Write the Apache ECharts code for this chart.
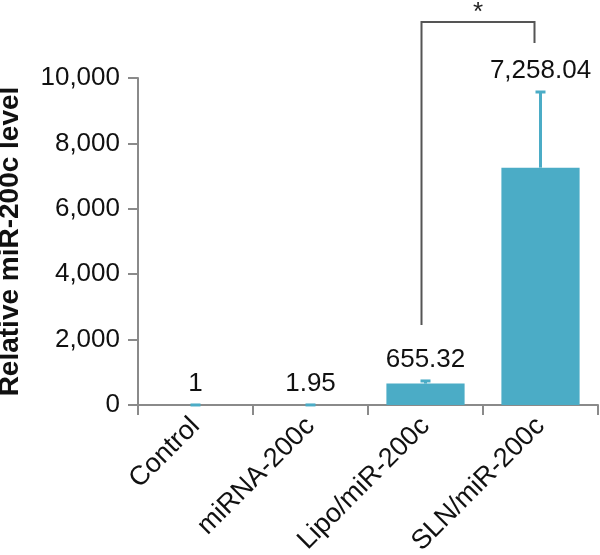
<!DOCTYPE html>
<html>
<head>
<meta charset="utf-8">
<script src="https://cdn.jsdelivr.net/npm/echarts@6/dist/echarts.min.js"></script>
<style>html,body{margin:0;padding:0;background:#fff}#c{width:600px;height:555px}</style>
</head>
<body>
<div id="c"></div>
<script>
const categories = ['Control', 'miRNA-200c', 'Lipo/miR-200c', 'SLN/miR-200c'];
const values = [1, 1.95, 655.32, 7258.04];
const errors = [0, 0, 80, 2314];
const yTicks = [0, 2000, 4000, 6000, 8000, 10000];
// significance bracket: from category 2 (left leg bottom) to category 3 (right leg bottom)
const bracket = { from: 2, to: 3, leftBottom: 2450, top: 11710, rightBottom: 11070, mark: '*' };

const fmt = v => v.toLocaleString('en-US', { maximumFractionDigits: 2 });
const barColor = '#4bacc6';
const FONT = 'Liberation Sans, Arial, sans-serif';

const chart = echarts.init(document.getElementById('c'));
chart.setOption({
  animation: false,
  backgroundColor: '#fff',
  grid: { left: 138, right: 2, top: 78, bottom: 150, containLabel: false, outerBoundsMode: 'none' },
  xAxis: {
    type: 'category',
    data: categories,
    axisLine: { lineStyle: { color: '#8a8a8a', width: 2 } },
    axisTick: { show: true, length: 10, lineStyle: { color: '#8a8a8a', width: 2 } },
    axisLabel: { rotate: 45, fontSize: 27, color: '#111', fontFamily: FONT, margin: 17 }
  },
  yAxis: {
    type: 'value',
    min: yTicks[0],
    max: yTicks[yTicks.length - 1],
    interval: yTicks[1] - yTicks[0],
    name: 'Relative miR-200c level',
    nameLocation: 'middle',
    nameGap: 114,
    nameTextStyle: { fontSize: 28, fontWeight: 'bold', color: '#111', fontFamily: FONT },
    axisLine: { show: true, lineStyle: { color: '#8a8a8a', width: 2 } },
    axisTick: { show: true, length: 10, lineStyle: { color: '#8a8a8a', width: 2 } },
    splitLine: { show: false },
    axisLabel: { fontSize: 26, color: '#111', fontFamily: FONT, margin: 18,
      formatter: v => v.toLocaleString('en-US') }
  },
  series: [
    {
      type: 'bar',
      data: values,
      barWidth: '68%',
      itemStyle: { color: barColor },
      z: 2
    },
    {
      type: 'custom',
      data: values.map((v, i) => [i, v, errors[i]]),
      clip: false,
      z: 3,
      renderItem: function (params, api) {
        const i = api.value(0), v = api.value(1), e = api.value(2);
        const base = api.coord([i, v]);
        const top = api.coord([i, v + e]);
        const x = base[0];
        return {
          type: 'group',
          children: [
            { type: 'line', shape: { x1: x, y1: base[1], x2: x, y2: top[1] },
              style: { stroke: barColor, lineWidth: 3 } },
            { type: 'line', shape: { x1: x - 5, y1: top[1], x2: x + 5, y2: top[1] },
              style: { stroke: barColor, lineWidth: 3 } },
            { type: 'text', x: x, y: top[1] - 8,
              style: { text: fmt(v), fontSize: 26, fill: '#111', fontFamily: FONT,
                align: 'center', verticalAlign: 'bottom' } }
          ]
        };
      }
    },
    {
      type: 'custom',
      data: [[bracket.from, bracket.to]],
      clip: false,
      z: 4,
      renderItem: function (params, api) {
        const l = api.coord([bracket.from, bracket.leftBottom]);
        const t = api.coord([bracket.from, bracket.top]);
        const r = api.coord([bracket.to, bracket.rightBottom]);
        const xl = l[0] - 4, xr = r[0] - 6;
        return {
          type: 'group',
          children: [
            { type: 'polyline', shape: { points: [[xl, l[1]], [xl, t[1]], [xr, t[1]], [xr, r[1]]] },
              style: { stroke: '#555', lineWidth: 2, fill: null } },
            { type: 'text', x: (xl + xr) / 2, y: t[1] - 9,
              style: { text: bracket.mark, fontSize: 26, fill: '#222', fontFamily: FONT,
                align: 'center', verticalAlign: 'middle' } }
          ]
        };
      }
    }
  ]
});
</script>
</body>
</html>
